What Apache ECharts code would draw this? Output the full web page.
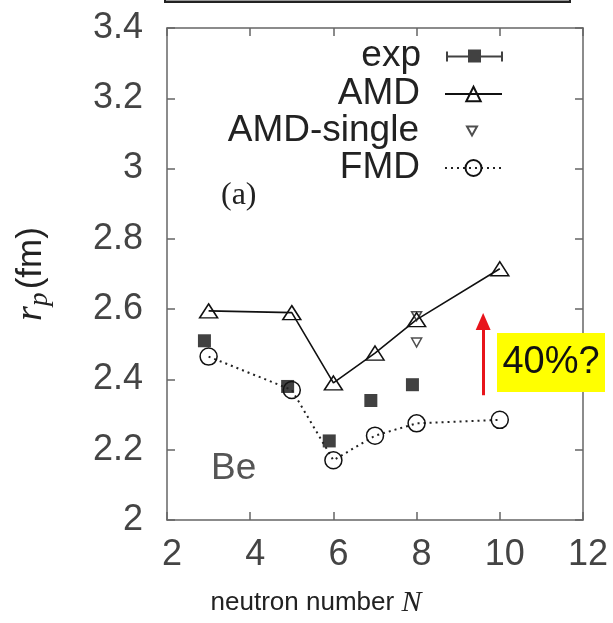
<!DOCTYPE html>
<html>
<head>
<meta charset="utf-8">
<script src="https://cdn.jsdelivr.net/npm/echarts@6/dist/echarts.min.js"></script>
<style>
html,body{margin:0;padding:0;background:#fff;}
#chart{width:613px;height:623px;}
</style>
</head>
<body>
<div id="chart"></div>
<script>
// ---- data ----
const expN = [2.9, 4.9, 5.9, 6.9, 7.9];
const expR = [2.51, 2.38, 2.225, 2.34, 2.385];
const amdN = [3, 5, 6, 7, 8, 10];
const amdR = [2.595, 2.59, 2.39, 2.475, 2.57, 2.715];
const singleN = [8, 8];
const singleR = [2.58, 2.505];
const fmdN = [3, 5, 6, 7, 8, 10];
const fmdR = [2.465, 2.37, 2.17, 2.24, 2.275, 2.285];
const arrowN = [9.6, 9.6];
const arrowR = [2.355, 2.565];
const xTicks = [2, 4, 6, 8, 10, 12];
const yTicks = [2, 2.2, 2.4, 2.6, 2.8, 3, 3.2, 3.4];

const pairs = (xs, ys) => xs.map((x, i) => [x, ys[i]]);

const chart = echarts.init(document.getElementById('chart'), null, {renderer: 'canvas'});
const axisColor = '#666';
const labelColor = '#444';
const sans = 'Liberation Sans';
const serif = 'Liberation Serif';

const expIcon = 'path://M0,2h2v10h-2zM55,2h2v10h-2zM0,6h57v2h-57zM22,0h13v13h-13z';
const downTri = 'path://M0,0L10,0L5,9Z';

function legendFor(name, top, extra) {
  return Object.assign({
    data: [name],
    orient: 'vertical',
    right: 110,
    top: top,
    padding: 0,
    align: 'right',
    itemWidth: 57,
    itemHeight: 16,
    itemGap: 25,
    selectedMode: false,
    textStyle: {fontSize: 37, fontFamily: sans, color: '#222', lineHeight: 38, padding: [0, 20, 0, 0]}
  }, extra || {});
}

const option = {
  animation: false,
  backgroundColor: '#fff',
  grid: {left: 167, right: 30, top: 28, bottom: 101, show: false},
  xAxis: [{
    type: 'value', min: xTicks[0], max: xTicks[xTicks.length - 1], interval: 2,
    position: 'bottom',
    axisLine: {show: true, lineStyle: {color: axisColor, width: 1.5}},
    axisTick: {show: true, inside: true, length: 8, lineStyle: {color: axisColor, width: 1.5}},
    splitLine: {show: false},
    axisLabel: {fontSize: 36, fontFamily: sans, color: labelColor, margin: 17, padding: [0, 0, 0, 10]},
    name: 'neutron number {i|N}',
    nameLocation: 'middle',
    nameGap: 68,
    nameTextStyle: {fontSize: 26, fontFamily: sans, color: '#222', padding: [0, 118, 0, 0],
      rich: {i: {fontFamily: serif, fontStyle: 'italic', fontSize: 30, color: '#222'}}}
  }, {
    type: 'value', min: xTicks[0], max: xTicks[xTicks.length - 1], interval: 2,
    position: 'top',
    axisLine: {show: true, lineStyle: {color: axisColor, width: 1.5}},
    axisTick: {show: true, inside: true, length: 8, lineStyle: {color: axisColor, width: 1.5}},
    splitLine: {show: false},
    axisLabel: {show: false}
  }],
  yAxis: [{
    type: 'value', min: yTicks[0], max: yTicks[yTicks.length - 1], interval: 0.2,
    position: 'left',
    axisLine: {show: true, lineStyle: {color: axisColor, width: 1.5}},
    axisTick: {show: true, inside: true, length: 8, lineStyle: {color: axisColor, width: 1.5}},
    splitLine: {show: false},
    axisLabel: {fontSize: 36, fontFamily: sans, color: labelColor, margin: 24,
      formatter: v => String(Math.round(v * 10) / 10)},
    name: '{r|r}{p|p} {fm|(fm)}',
    nameLocation: 'middle',
    nameGap: 114,
    nameRotate: 90,
    nameTextStyle: {
      rich: {
        r: {fontFamily: serif, fontStyle: 'italic', fontSize: 38, color: '#222', lineHeight: 44, verticalAlign: 'middle'},
        p: {fontFamily: serif, fontStyle: 'italic', fontSize: 27, color: '#222', lineHeight: 26, verticalAlign: 'bottom'},
        fm: {fontFamily: sans, fontSize: 35, color: '#222', lineHeight: 44, verticalAlign: 'middle'}
      }
    }
  }, {
    type: 'value', min: yTicks[0], max: yTicks[yTicks.length - 1], interval: 0.2,
    position: 'right',
    axisLine: {show: true, lineStyle: {color: axisColor, width: 1.5}},
    axisTick: {show: true, inside: true, length: 8, lineStyle: {color: axisColor, width: 1.5}},
    splitLine: {show: false},
    axisLabel: {show: false}
  }],
  legend: [
    legendFor('exp', 37, {data: [{name: 'exp', icon: expIcon}], itemHeight: 14}),
    legendFor('AMD', 75, {itemHeight: 18}),
    legendFor('AMD-single', 112, {data: [{name: 'AMD-single', icon: downTri}], right: 135, itemWidth: 10, itemHeight: 9,
      textStyle: {fontSize: 37, fontFamily: sans, color: '#222', lineHeight: 38, padding: [0, 43, 0, 0]}}),
    legendFor('FMD', 149, {itemHeight: 20})
  ],
  series: [
    {
      name: 'exp', type: 'scatter', xAxisIndex: 0, yAxisIndex: 0,
      data: pairs(expN, expR), symbol: 'rect', symbolSize: 13,
      itemStyle: {color: '#111'}, z: 3
    },
    {
      name: 'AMD', type: 'line', xAxisIndex: 0, yAxisIndex: 0,
      data: pairs(amdN, amdR), symbol: 'triangle', symbolSize: [18, 14],
      lineStyle: {color: '#111', width: 1.6},
      itemStyle: {color: 'rgba(255,255,255,0)', borderColor: '#111', borderWidth: 1.5},
      z: 4
    },
    {
      name: 'AMD-single', type: 'scatter', xAxisIndex: 0, yAxisIndex: 0,
      data: pairs(singleN, singleR), symbol: 'triangle', symbolRotate: 180, symbolSize: [10, 9],
      itemStyle: {color: 'rgba(255,255,255,0)', borderColor: '#222', borderWidth: 1.5},
      z: 5
    },
    {
      name: 'FMD', type: 'line', xAxisIndex: 0, yAxisIndex: 0,
      data: pairs(fmdN, fmdR), symbol: 'circle', symbolSize: 17,
      lineStyle: {color: '#222', width: 2, type: [2, 4]},
      itemStyle: {color: 'rgba(255,255,255,0)', borderColor: '#111', borderWidth: 1.5},
      z: 4
    },
    {
      name: 'arrow', type: 'line', xAxisIndex: 0, yAxisIndex: 0,
      data: [], silent: true,
      markLine: {
        silent: true, symbol: ['none', 'triangle'], symbolSize: [15, 17],
        label: {show: false},
        lineStyle: {color: '#e8141b', width: 3, type: 'solid'},
        data: [[{coord: [arrowN[0], arrowR[0]]}, {coord: [arrowN[1], arrowR[1]]}]]
      }
    }
  ],
  graphic: [
    {type: 'rect', z: 100, shape: {x: 165, y: -10, width: 405, height: 12},
      style: {fill: '#9a9a9a', stroke: '#222', lineWidth: 2}},
    {type: 'text', z: 100, left: 221, top: 180,
      style: {text: '(a)', font: '32px "Liberation Serif"', fill: '#222'}},
    {type: 'text', z: 100, left: 211, top: 450,
      style: {text: 'Be', font: '37px "Liberation Sans"', fill: '#555'}},
    {type: 'rect', z: 100, shape: {x: 497, y: 333, width: 108, height: 59},
      style: {fill: '#ffff00'}},
    {type: 'text', z: 101, x: 551, y: 363,
      style: {text: '40%?', font: '38px "Liberation Sans"', fill: '#111', align: 'center', verticalAlign: 'middle'}}
  ]
};
chart.setOption(option);
</script>
</body>
</html>
